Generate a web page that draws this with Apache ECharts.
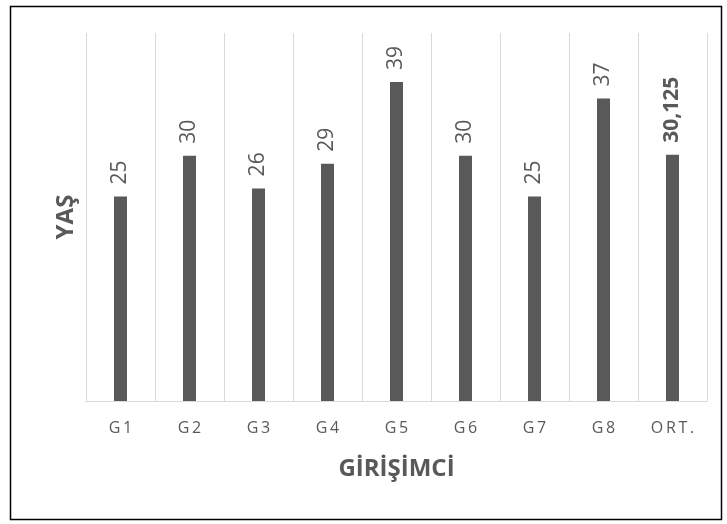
<!DOCTYPE html>
<html><head><meta charset="utf-8">
<script src="https://cdn.jsdelivr.net/npm/echarts@6/dist/echarts.min.js"></script>
<style>html,body{margin:0;padding:0;background:#fff}#c{width:727px;height:524px}</style>
</head><body><div id="c"></div>
<script>
const categories = ['G1','G2','G3','G4','G5','G6','G7','G8','ORT.'];
const ages = [25, 30, 26, 29, 39, 30, 25, 37, 30.125];
const xName = 'GİRİŞİMCİ';
const yName = 'YAŞ';

const chart = echarts.init(document.getElementById('c'), null, {renderer:'canvas'});
const FONT = '"Open Sans", Lato, sans-serif';
chart.setOption({
  backgroundColor: '#fff',
  animation: false,
  graphic: [{
    type: 'rect', left: 8, top: 4,
    shape: {width: 711, height: 513},
    style: {fill: 'none', stroke: '#000', lineWidth: 1.5}
  }],
  grid: {left: 86, right: 20, top: 33, bottom: 123},
  xAxis: {
    type: 'category', data: categories,
    name: xName, nameLocation: 'middle', nameGap: 56,
    nameTextStyle: {fontFamily: FONT, fontSize: 24, fontWeight: 'bold', color: '#595959'},
    axisLine: {lineStyle: {color: '#d9d9d9', width: 1}},
    axisTick: {show: false},
    splitLine: {show: true, lineStyle: {color: '#d9d9d9', width: 1}},
    axisLabel: {
      fontFamily: FONT, fontSize: 16, color: '#595959', margin: 19,
      formatter: v => v.split('').join('\u2009')
    }
  },
  yAxis: {
    type: 'value', min: 0, max: 45, interval: 5,
    name: yName, nameLocation: 'middle', nameGap: 8,
    nameTextStyle: {fontFamily: FONT, fontSize: 24, fontWeight: 'bold', color: '#595959'},
    axisLabel: {show: false}, axisLine: {show: false}, axisTick: {show: false},
    splitLine: {show: false}
  },
  series: [{
    type: 'bar', data: ages.map((v,i)=>({
      value: v,
      label: i === ages.length-1 ? {fontWeight: 'bold', formatter: () => String(v).replace('.', ',')} : {}
    })),
    barWidth: 13,
    itemStyle: {color: '#595959'},
    label: {
      show: true, position: 'top', rotate: 90, align: 'left', verticalAlign: 'middle',
      distance: 12, fontFamily: FONT, fontSize: 21, color: '#595959'
    }
  }]
});
</script></body></html>
